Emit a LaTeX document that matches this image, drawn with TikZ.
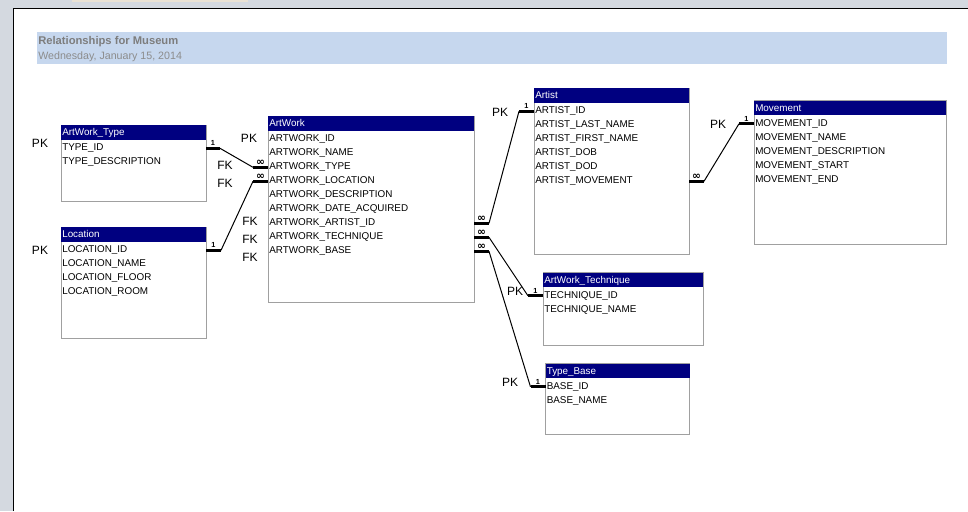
\documentclass[tikz,border=0pt]{standalone}
\usepackage{fontspec}
\setmainfont{Liberation Sans}
\newfontfamily\symfont{DejaVu Sans}
\usetikzlibrary{calc,positioning}
\definecolor{navy}{RGB}{ 0, 0, 128 }
\definecolor{boxgray}{RGB}{ 160, 160, 160 }
\definecolor{band}{RGB}{ 198, 215, 238 }
\definecolor{headgray}{RGB}{ 125, 125, 125 }
\definecolor{dategray}{RGB}{ 140, 140, 140 }
\definecolor{chrome}{RGB}{ 212, 217, 224 }
\definecolor{tabbeige}{RGB}{ 234, 226, 212 }
\tikzset{tablebox/.style 2 args={draw=boxgray,line width=0.75pt,fill=white,anchor=north west,
  inner sep=0,outer sep=0,minimum width=#1*0.75pt,minimum height=#2*0.75pt}}

\begin{document}
\begin{tikzpicture}[x=0.75pt,y=-0.75pt,font=\fontsize{7.4}{8}\selectfont]
\tikzstyle{field}=[anchor=west,inner sep=0,text height=5.4pt,text depth=1.4pt]
\tikzstyle{tabletitle}=[field,text=white]
\tikzstyle{keylab}=[inner sep=0,font=\fontsize{9}{10}\selectfont]
\tikzstyle{stub}=[line width=2.25pt]
\tikzstyle{rel}=[line width=0.75pt]
\tikzstyle{one}=[above=0.9pt,inner sep=0,font=\fontsize{5.5}{5.5}\selectfont\bfseries]
\tikzstyle{many}=[above=0.6pt,inner sep=0,font=\fontsize{8}{8}\symfont\bfseries]

\useasboundingbox (0,0) rectangle (968,511);
% window frame
\fill[chrome] (0,0) rectangle (968,8);
\fill[chrome] (0,0) rectangle (13,511);
\fill[tabbeige] (72,0) rectangle (248,1.5);
\draw[line width=1.1pt] (13.5,511) -- (13.5,8.5) -- (968,8.5);

% report header
\fill[band] (37,32) rectangle (947,64);
\node(head)[anchor=west,inner sep=0,text=headgray,font=\fontsize{8.4}{9}\selectfont\bfseries] at (38,41.5) {Relationships for Museum};
\node(date)[anchor=west,inner sep=0,text=dategray,font=\fontsize{8}{9}\selectfont] at (38,57) {Wednesday, January 15, 2014};

% ArtWork_Type
\node(type)[tablebox={145}{76}] at (61,125) {};
\fill[navy] (type.north west) rectangle ++(145,14.5);
\node(type-t)[tabletitle] at ($(type.north west)+(1,8)$) {ArtWork\_Type};
\foreach \f [count=\i] in {TYPE\_ID,TYPE\_DESCRIPTION}
  \node(type-\i)[field] at ($(type.north west)+(1,9.3+14*\i)$) {\f};

% Location
\node(loc)[tablebox={145}{111}] at (61,227) {};
\fill[navy] (loc.north west) rectangle ++(145,14.5);
\node(loc-t)[tabletitle] at ($(loc.north west)+(1,8)$) {Location};
\foreach \f [count=\i] in {LOCATION\_ID,LOCATION\_NAME,LOCATION\_FLOOR,LOCATION\_ROOM}
  \node(loc-\i)[field] at ($(loc.north west)+(1,9.3+14*\i)$) {\f};

% ArtWork
\node(art)[tablebox={206}{186}] at (268,116) {};
\fill[navy] (art.north west) rectangle ++(206,14.5);
\node(art-t)[tabletitle] at ($(art.north west)+(1,8)$) {ArtWork};
\foreach \f [count=\i] in {ARTWORK\_ID,ARTWORK\_NAME,ARTWORK\_TYPE,ARTWORK\_LOCATION,
    ARTWORK\_DESCRIPTION,ARTWORK\_DATE\_ACQUIRED,ARTWORK\_ARTIST\_ID,ARTWORK\_TECHNIQUE,ARTWORK\_BASE}
  \node(art-\i)[field] at ($(art.north west)+(1,9.3+14*\i)$) {\f};

% Artist
\node(artist)[tablebox={155}{166}] at (534,88) {};
\fill[navy] (artist.north west) rectangle ++(155,14.5);
\node(artist-t)[tabletitle] at ($(artist.north west)+(1,8)$) {Artist};
\foreach \f [count=\i] in {ARTIST\_ID,ARTIST\_LAST\_NAME,ARTIST\_FIRST\_NAME,ARTIST\_DOB,ARTIST\_DOD,ARTIST\_MOVEMENT}
  \node(artist-\i)[field] at ($(artist.north west)+(1,9.3+14*\i)$) {\f};

% Movement
\node(mov)[tablebox={192}{143.5}] at (754,100.5) {};
\fill[navy] (mov.north west) rectangle ++(192,14.5);
\node(mov-t)[tabletitle] at ($(mov.north west)+(1,8)$) {Movement};
\foreach \f [count=\i] in {MOVEMENT\_ID,MOVEMENT\_NAME,MOVEMENT\_DESCRIPTION,MOVEMENT\_START,MOVEMENT\_END}
  \node(mov-\i)[field] at ($(mov.north west)+(1,9.3+14*\i)$) {\f};

% ArtWork_Technique
\node(tech)[tablebox={160}{72.5}] at (543,272.5) {};
\fill[navy] (tech.north west) rectangle ++(160,14.5);
\node(tech-t)[tabletitle] at ($(tech.north west)+(1,8)$) {ArtWork\_Technique};
\foreach \f [count=\i] in {TECHNIQUE\_ID,TECHNIQUE\_NAME}
  \node(tech-\i)[field] at ($(tech.north west)+(1,9.3+14*\i)$) {\f};

% Type_Base
\node(base)[tablebox={144}{70.5}] at (545.5,363.5) {};
\fill[navy] (base.north west) rectangle ++(144,14.5);
\node(base-t)[tabletitle] at ($(base.north west)+(1,8)$) {Type\_Base};
\foreach \f [count=\i] in {BASE\_ID,BASE\_NAME}
  \node(base-\i)[field] at ($(base.north west)+(1,9.3+14*\i)$) {\f};

% key labels
\node(pk-type)[keylab] at (40,143) {PK};
\node(pk-loc)[keylab] at (40,250) {PK};
\node(pk-art)[keylab] at (249,138) {PK};
\node(fk-type)[keylab] at (225,165) {FK};
\node(fk-loc)[keylab] at (225,183) {FK};
\node(fk-artist)[keylab] at (250,221) {FK};
\node(fk-tech)[keylab] at (250,239) {FK};
\node(fk-base)[keylab] at (250,257) {FK};
\node(pk-artist)[keylab] at (500,112) {PK};
\node(pk-mov)[keylab] at (718,124) {PK};
\node(pk-tech)[keylab] at (515,291) {PK};
\node(pk-base)[keylab] at (510,382) {PK};

% relationships
\draw[stub] (type.east |- type-1) -- ++(14,0) coordinate (type-s) node[midway,one]{1};
\draw[stub] (art.west |- art-3) -- ++(-15,0) coordinate (art-s3) node[midway,many]{∞};
\draw[rel] (type-s) -- (art-s3);

\draw[stub] (loc.east |- loc-1) -- ++(15,0) coordinate (loc-s) node[midway,one]{1};
\draw[stub] (art.west |- art-4) -- ++(-15,0) coordinate (art-s4) node[midway,many]{∞};
\draw[rel] (loc-s) -- (art-s4);

\draw[stub] (art.east |- art-7) -- ++(15,0) coordinate (art-s7) node[midway,many]{∞};
\draw[stub] (artist.west |- artist-1) -- ++(-15,0) coordinate (artist-s) node[midway,one]{1};
\draw[rel] (art-s7) -- (artist-s);

\draw[stub] (art.east |- art-8) -- ++(15,0) coordinate (art-s8) node[midway,many]{∞};
\draw[stub] (tech.west |- tech-1) -- ++(-15,0) coordinate (tech-s) node[midway,one]{1};
\draw[rel] (art-s8) -- (tech-s);

\draw[stub] (art.east |- art-9) -- ++(15,0) coordinate (art-s9) node[midway,many]{∞};
\draw[stub] (base.west |- base-1) -- ++(-15,0) coordinate (base-s) node[midway,one]{1};
\draw[rel] (art-s9) -- (base-s);

\draw[stub] (artist.east |- artist-6) -- ++(15,0) coordinate (artist-s6) node[midway,many]{∞};
\draw[stub] (mov.west |- mov-1) -- ++(-15,0) coordinate (mov-s) node[midway,one]{1};
\draw[rel] (artist-s6) -- (mov-s);

\end{tikzpicture}
\end{document}
